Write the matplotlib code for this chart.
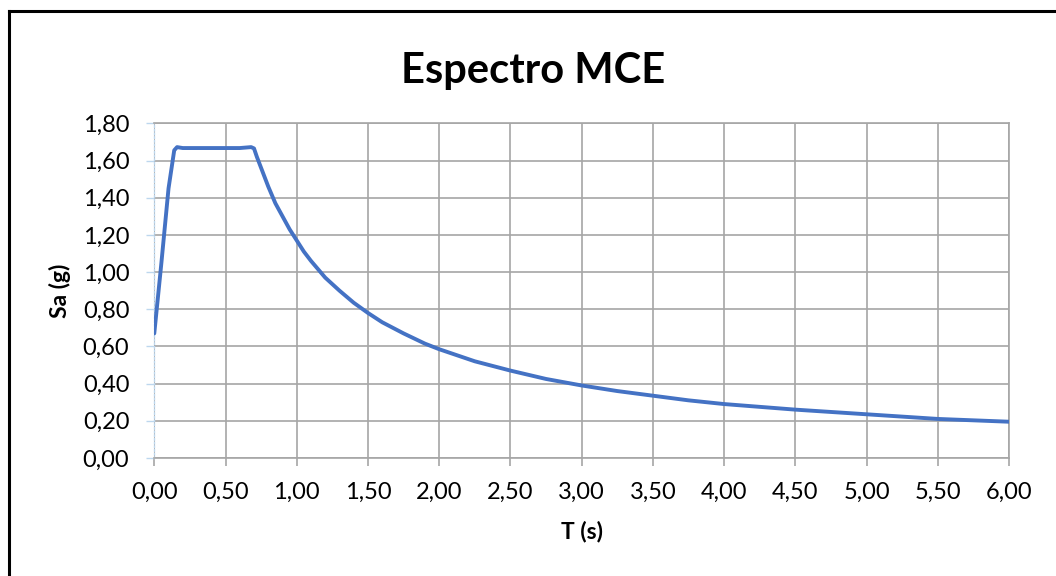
import matplotlib
matplotlib.use("Agg")
import matplotlib.pyplot as plt
from matplotlib.lines import Line2D
from matplotlib.ticker import FuncFormatter, MultipleLocator

plt.rcParams['font.family'] = ['Lato', 'DejaVu Sans']

# espectro MCE
periodo = [0.00, 0.05, 0.10, 0.14, 0.16, 0.20, 0.30, 0.40, 0.50, 0.60,
           0.68, 0.70, 0.72, 0.75, 0.80, 0.85, 0.90, 0.95, 1.00, 1.05,
           1.10, 1.15, 1.20, 1.30, 1.40, 1.50, 1.60, 1.75, 1.90, 2.00,
           2.25, 2.50, 2.75, 3.00, 3.25, 3.50, 3.75, 4.00, 4.50, 5.00,
           5.50, 6.00]
sa = [0.67, 1.05, 1.45, 1.655, 1.672, 1.667, 1.667, 1.667, 1.667, 1.667,
      1.672, 1.665, 1.62, 1.56, 1.46, 1.37, 1.30, 1.23, 1.17, 1.11,
      1.06, 1.015, 0.97, 0.90, 0.835, 0.78, 0.73, 0.67, 0.615, 0.585,
      0.52, 0.47, 0.425, 0.39, 0.36, 0.335, 0.31, 0.29, 0.26, 0.235,
      0.21, 0.195]

titulo = 'Espectro MCE'
xlabel = 'T (s)'
ylabel = 'Sa (g)'

fig = plt.figure(figsize=(10.56, 5.76), dpi=100)
ax = fig.add_axes([0.1461, 0.2049, 0.8094, 0.5810])

ax.plot(periodo, sa, color='#4472C4', lw=2.8, solid_joinstyle='round',
        solid_capstyle='round', zorder=3)

ax.set_xlim(0, 6)
ax.set_ylim(0, 1.8)
ax.xaxis.set_major_locator(MultipleLocator(0.5))
ax.yaxis.set_major_locator(MultipleLocator(0.2))
fmt = FuncFormatter(lambda v, p: f'{v:.2f}'.replace('.', ','))
ax.xaxis.set_major_formatter(fmt)
ax.yaxis.set_major_formatter(fmt)

ax.grid(True, color='#a6a6a6', lw=1.2, zorder=1)
for s in ['top', 'right', 'bottom']:
    ax.spines[s].set_color('#a6a6a6')
    ax.spines[s].set_linewidth(1.2)
ax.spines['left'].set_color('#bdd7ee')
ax.spines['left'].set_linestyle(':')
ax.spines['left'].set_linewidth(1.0)

ax.tick_params(axis='x', length=6, width=1.2, color='#a6a6a6', pad=11,
               labelsize=17)
ax.tick_params(axis='y', length=6, width=1.0, color='#bdd7ee', pad=12,
               labelsize=17)

ax.set_xlabel(xlabel, fontsize=16.5, fontweight='bold')
ax.set_ylabel(ylabel, fontsize=16.5, fontweight='bold')
ax.xaxis.label.set_va('center')
ax.yaxis.label.set_va('center')
ax.xaxis.set_label_coords(0.5, -0.221)
ax.yaxis.set_label_coords(-0.110, 0.5)
fig.text(0.505, 0.877, titulo, ha='center', va='center', fontsize=30,
         fontweight='bold')

# moldura (so esquerda e topo aparecem)
fig.add_artist(Line2D([8.5 / 1056, 8.5 / 1056], [0, 1 - 11 / 576],
                      color='black', lw=2.2, transform=fig.transFigure))
fig.add_artist(Line2D([8.5 / 1056, 1], [1 - 11 / 576, 1 - 11 / 576],
                      color='black', lw=2.2, transform=fig.transFigure))

fig.savefig('out.png', dpi=100)
